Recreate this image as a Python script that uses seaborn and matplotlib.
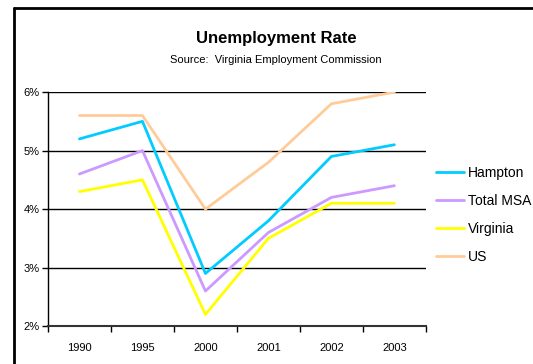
import numpy as np
import pandas as pd
import matplotlib
matplotlib.use("Agg")
import matplotlib.pyplot as plt
from matplotlib.lines import Line2D
from matplotlib.ticker import FixedLocator, FuncFormatter
import seaborn as sns

# ------------------- Données -------------------
years = ["1990", "1995", "2000", "2001", "2002", "2003"]
hampton = [5.2, 5.5, 2.9, 3.8, 4.9, 5.1]
total_msa = [4.6, 5.0, 2.6, 3.6, 4.2, 4.4]
virginia = [4.3, 4.5, 2.2, 3.5, 4.1, 4.1]
us = [5.6, 5.6, 4.0, 4.8, 5.8, 6.0]

series_names = ["Hampton", "Total MSA", "Virginia", "US"]
colors = {"Hampton": "#00CCFF", "Total MSA": "#CC99FF",
          "Virginia": "#FFFF00", "US": "#FFCC99"}

df = pd.DataFrame({
    "year": years * 4,
    "rate": hampton + total_msa + virginia + us,
    "serie": [s for s in series_names for _ in years],
})

# ------------------- Figure -------------------
sns.set_style("white")
plt.rcParams["font.family"] = ["Liberation Sans", "DejaVu Sans"]
plt.rcParams["text.color"] = "black"
plt.rcParams["xtick.labelcolor"] = "black"
plt.rcParams["ytick.labelcolor"] = "black"

fig = plt.figure(figsize=(5.33, 3.64), dpi=100)
ax = fig.add_axes([0.090, 0.104, 0.709, 0.643])

# gridlines first so that the curves are drawn over them
for v in [3, 4, 5, 6]:
    ax.axhline(v, color="black", lw=1, zorder=1)

sns.lineplot(data=df, x="year", y="rate", hue="serie", hue_order=series_names,
             palette=colors, linewidth=2, sort=False, ax=ax, zorder=3)

ax.set_xlim(-0.5, 5.5)
ax.set_ylim(2, 6)
ax.set_yticks([2, 3, 4, 5, 6])
ax.yaxis.set_major_formatter(FuncFormatter(lambda v, p: f"{v:.0f}%"))
ax.set_xlabel("")
ax.set_ylabel("")

# ticks on category boundaries
ax.xaxis.set_minor_locator(FixedLocator(np.arange(-0.5, 6, 1)))
ax.tick_params(axis="x", which="major", length=0, labelsize=8, pad=12)
ax.tick_params(axis="x", which="minor", length=4, width=1, color="black",
               direction="out", bottom=True)
ax.tick_params(axis="y", which="major", length=4, width=1, color="black",
               direction="out", left=True, labelsize=8, pad=2)

for side in ["top", "right"]:
    ax.spines[side].set_visible(False)
ax.spines["left"].set_color("black")
ax.spines["left"].set_linewidth(1)
ax.spines["bottom"].set_color("#333333")
ax.spines["bottom"].set_linewidth(1.5)

# légende
leg = ax.legend(loc="center left", bbox_to_anchor=(0.995, 0.476), frameon=False,
                fontsize=10, handlelength=1.95, handletextpad=0.3, labelspacing=1.0)

# titres
fig.text(0.518, 0.893, "Unemployment Rate", ha="center", va="center",
         fontsize=12, fontweight="bold")
fig.text(0.518, 0.835, "Source:  Virginia Employment Commission", ha="center",
         va="center", fontsize=8)

# cadre (gauche et haut seulement, le reste est coupé)
fig.add_artist(Line2D([0.026, 0.026], [0, 0.978], transform=fig.transFigure,
                      color="black", lw=2))
fig.add_artist(Line2D([0.026, 1.0], [0.978, 0.978], transform=fig.transFigure,
                      color="black", lw=2))

fig.savefig("out.png", dpi=100)
